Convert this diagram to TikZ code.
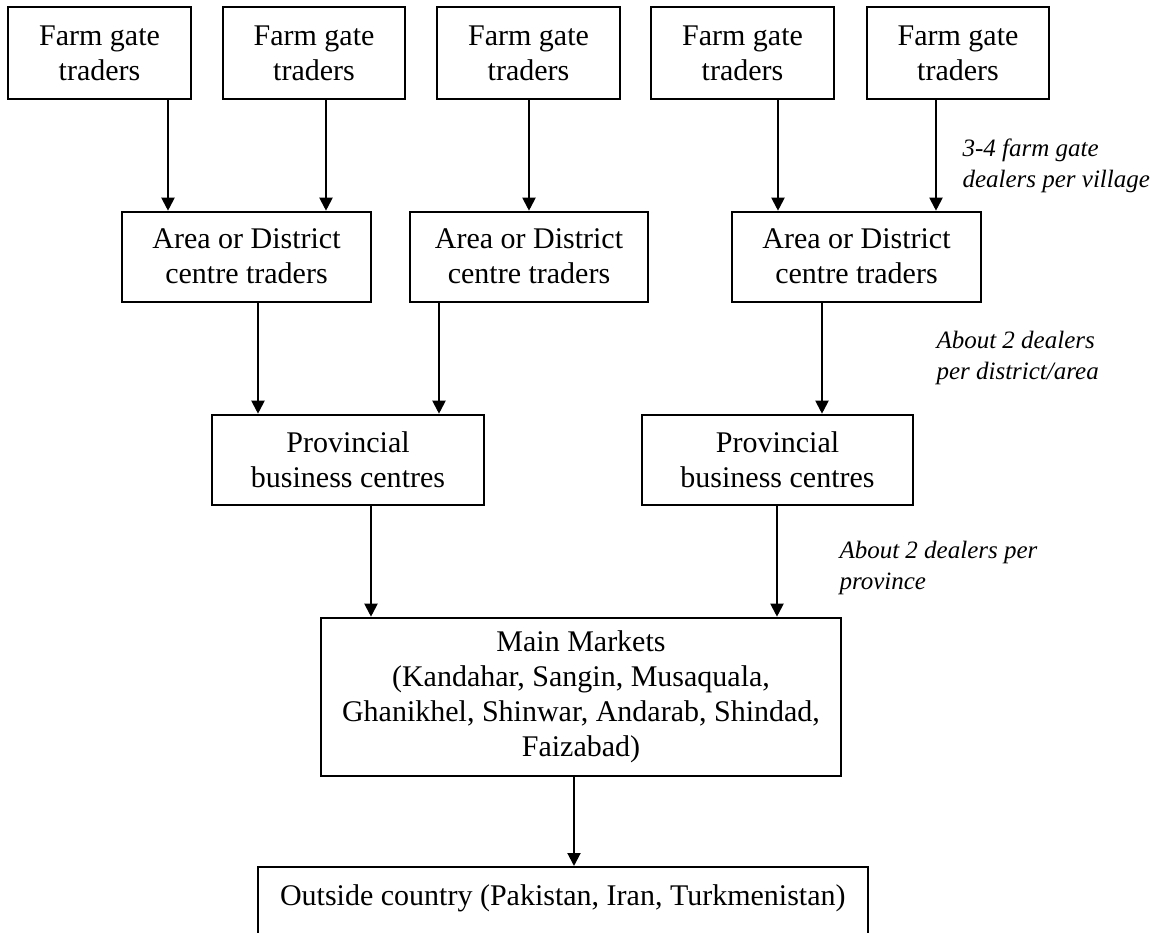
\documentclass[tikz,border=0pt]{standalone}
\usepackage{fontspec}
\setmainfont{Liberation Serif}
\usetikzlibrary{arrows.meta, positioning, calc}

\begin{document}
\begin{tikzpicture}[
    x=0.4pt, y=-0.4pt,
    tradebox/.style={rectangle, draw, line width=0.8pt, align=center, inner sep=0pt, minimum height=36pt, font=\fontsize{12}{14}\selectfont},
    notenode/.style={anchor=west, align=left, inner sep=0pt, font=\fontsize{10}{12.4}\selectfont\itshape},
    arrow/.style={line width=0.8pt, -{Triangle[length=5.2pt, width=5.2pt]}},
  ]
  \useasboundingbox (0,0) rectangle (1156,933);

  % farm gate level
  \node[tradebox, minimum width=73pt, minimum height=36.8pt] (f1) at (99.5,53) {Farm gate\\traders};
  \node[tradebox, minimum width=73pt, minimum height=36.8pt] (f2) at (314,53) {Farm gate\\traders};
  \node[tradebox, minimum width=73pt, minimum height=36.8pt] (f3) at (528.5,53) {Farm gate\\traders};
  \node[tradebox, minimum width=73pt, minimum height=36.8pt] (f4) at (742.5,53) {Farm gate\\traders};
  \node[tradebox, minimum width=73pt, minimum height=36.8pt] (f5) at (958,53) {Farm gate\\traders};

  % area / district level
  \node[tradebox, minimum width=99.6pt] (a1) at (246.5,256.7) {Area or District\\centre traders};
  \node[tradebox, minimum width=95.2pt] (a2) at (529,256.7) {Area or District\\centre traders};
  \node[tradebox, minimum width=99.6pt] (a3) at (856.5,256.7) {Area or District\\centre traders};

  % provincial level
  \node[tradebox, minimum width=108.8pt] (p1) at (348,459.7) {Provincial\\business centres};
  \node[tradebox, minimum width=108.4pt] (p2) at (777.5,459.7) {Provincial\\business centres};

  \node[tradebox, minimum width=208pt, minimum height=63.2pt] (mkt) at (581,696.7)
    {Main Markets\\(Kandahar, Sangin, Musaquala,\\Ghanikhel, Shinwar, Andarab, Shindad,\\Faizabad)};

  % box runs off the bottom edge
  \node[tradebox, anchor=north, minimum width=243.8pt, text height=15.2pt, text depth=24pt] (out) at (562.8,866)
    {Outside country (Pakistan, Iran, Turkmenistan)};

  \node[notenode] (n1) at (962,166) {3-4 farm gate\\dealers per village};
  \node[notenode] (n2) at (936,358) {About 2 dealers\\per district/area};
  \node[notenode] (n3) at (839,567.5) {About 2 dealers per\\province};

  \draw[arrow] (f1.south -| 168,0) -- (a1.north -| 168,0);
  \draw[arrow] (f2.south -| 326,0) -- (a1.north -| 326,0);
  \draw[arrow] (f3.south -| 529,0) -- (a2.north -| 529,0);
  \draw[arrow] (f4.south -| 778,0) -- (a3.north -| 778,0);
  \draw[arrow] (f5.south -| 936,0) -- (a3.north -| 936,0);

  \draw[arrow] (a1.south -| 258,0) -- (p1.north -| 258,0);
  \draw[arrow] (a2.south -| 439,0) -- (p1.north -| 439,0);
  \draw[arrow] (a3.south -| 822,0) -- (p2.north -| 822,0);

  \draw[arrow] (p1.south -| 371,0) -- (mkt.north -| 371,0);
  \draw[arrow] (p2.south -| 777,0) -- (mkt.north -| 777,0);

  \draw[arrow] (mkt.south -| 574,0) -- (out.north -| 574,0);
\end{tikzpicture}
\end{document}
